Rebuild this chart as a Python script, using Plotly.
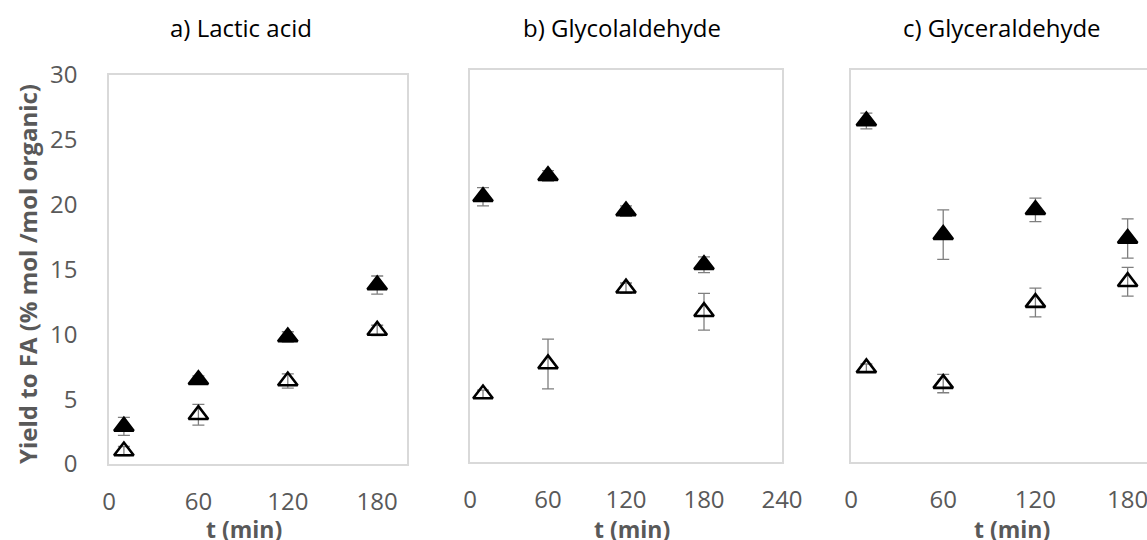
import plotly.graph_objects as go

W, H = 1147, 540

# ---- data ----
t_min = [10, 60, 120, 180]

lactic_filled = [2.9, 6.5, 9.8, 13.8]
lactic_filled_err = [0.7, 0.3, 0.4, 0.7]
lactic_open = [1.0, 3.8, 6.4, 10.3]
lactic_open_err = [0.35, 0.8, 0.55, 0.4]

glycol_filled = [20.3, 21.9, 19.2, 15.1]
glycol_filled_err = [0.7, 0.4, 0.4, 0.6]
glycol_open = [5.2, 7.5, 13.3, 11.5]
glycol_open_err = [0.3, 1.9, 0.4, 1.4]

glycer_filled = [26.1, 17.4, 19.3, 17.1]
glycer_filled_err = [0.6, 1.9, 0.9, 1.5]
glycer_open = [7.2, 6.0, 12.2, 13.8]
glycer_open_err = [0.3, 0.7, 1.1, 1.1]

panel_titles = ["a) Lactic acid", "b) Glycolaldehyde", "c) Glyceraldehyde"]
x_ticks = [0, 60, 120, 180, 240]
y_ticks = [0, 5, 10, 15, 20, 25, 30]

# ---- styling ----
GRAY_TXT = "#595959"
BORDER = "#d9d9d9"
ERR_COL = "#7f7f7f"
TICK_FONT = dict(family="Open Sans", size=24, color=GRAY_TXT)

def px_x(p):
    return p / W

def px_y(p):
    return 1 - p / H

# plot areas in pixels: (left, right, top, bottom)
areas = [
    (109, 407, 75, 464),
    (470, 782, 70, 462),
    (851, 1147, 70, 462),
]
x_ranges = [[0, 200], [0, 240], [0, 192.6]]

fig = go.Figure()

series = [
    (lactic_filled, lactic_filled_err, lactic_open, lactic_open_err),
    (glycol_filled, glycol_filled_err, glycol_open, glycol_open_err),
    (glycer_filled, glycer_filled_err, glycer_open, glycer_open_err),
]

for i, (f, fe, o, oe) in enumerate(series):
    xa = "x" if i == 0 else f"x{i+1}"
    ya = "y" if i == 0 else f"y{i+1}"
    err_style = dict(type="data", visible=True, color=ERR_COL, thickness=1.3, width=6)
    fig.add_trace(go.Scatter(
        x=t_min, y=o, mode="markers", xaxis=xa, yaxis=ya, showlegend=False,
        error_y=dict(array=oe, **err_style),
        marker=dict(symbol="triangle-up-open", size=17, color="black",
                    line=dict(width=2.6, color="black")),
    ))
    fig.add_trace(go.Scatter(
        x=t_min, y=f, mode="markers", xaxis=xa, yaxis=ya, showlegend=False,
        error_y=dict(array=fe, **err_style),
        marker=dict(symbol="triangle-up", size=17, color="black",
                    line=dict(width=2.5, color="black")),
    ))

layout = dict(
    width=W, height=H,
    margin=dict(l=0, r=0, t=0, b=0, pad=0, autoexpand=False),
    paper_bgcolor="white", plot_bgcolor="white",
    showlegend=False,
)

for i, (l, r, tp, bt) in enumerate(areas):
    sx = "" if i == 0 else str(i + 1)
    layout[f"xaxis{sx}"] = dict(
        domain=[px_x(l), px_x(r)], range=x_ranges[i],
        anchor=f"y{sx}", tickvals=x_ticks, ticktext=[str(v) for v in x_ticks],
        showgrid=False, zeroline=False, showline=True, mirror=True,
        linecolor=BORDER, linewidth=1.5, ticks="", automargin=False,
        ticklabeloverflow="allow",
        tickfont=TICK_FONT, ticklabelstandoff=15,
    )
    layout[f"yaxis{sx}"] = dict(
        domain=[px_y(bt), px_y(tp)], range=[0, 30],
        anchor=f"x{sx}", tickvals=y_ticks,
        showticklabels=(i == 0), automargin=False,
        showgrid=False, zeroline=False, showline=True, mirror=(i != 2),
        linecolor=BORDER, linewidth=1.5, ticks="",
        tickfont=TICK_FONT, ticklabelstandoff=25,
    )

fig.update_layout(**layout)

# panel titles
title_centers = [241, 622, 1002]
for txt, cx in zip(panel_titles, title_centers):
    fig.add_annotation(text=txt, x=px_x(cx), y=px_y(27), xref="paper", yref="paper",
                       xanchor="center", yanchor="middle", showarrow=False,
                       font=dict(family="Open Sans", size=24, color="black"))

# x-axis titles
for cx in [244, 632, 1012]:
    fig.add_annotation(text="<b>t (min)</b>", x=px_x(cx), y=px_y(529), xref="paper", yref="paper",
                       xanchor="center", yanchor="middle", showarrow=False,
                       font=dict(family="Open Sans", size=23, color=GRAY_TXT))

# y-axis title
fig.add_annotation(text="<b>Yield to FA (% mol /mol organic)</b>", x=px_x(27), y=px_y(274),
                   xref="paper", yref="paper", xanchor="center", yanchor="middle",
                   textangle=-90, showarrow=False,
                   font=dict(family="Open Sans", size=24, color=GRAY_TXT))

fig.write_html("out.html")
